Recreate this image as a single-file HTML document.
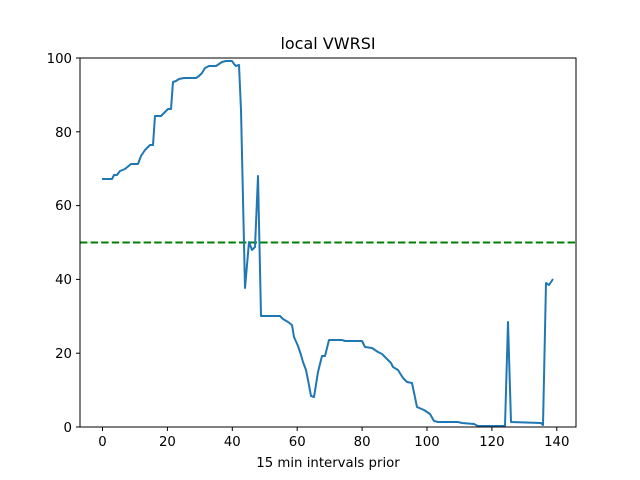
<!DOCTYPE html>
<html><head><meta charset="utf-8"><style>
html,body{margin:0;padding:0;background:#fff}
svg{display:block}
text{font-family:"DejaVu Sans","Liberation Sans",sans-serif;font-size:13.3px;fill:#000}
</style></head><body>
<svg width="640" height="480" viewBox="0 0 640 480" xmlns="http://www.w3.org/2000/svg">
<rect width="640" height="480" fill="#fff"/>
<text x="328" y="49" text-anchor="middle" style="font-size:16px">local VWRSI</text>
<line x1="80" y1="242.5" x2="576" y2="242.5" stroke="#008000" stroke-width="2" stroke-dasharray="7.4,3.2"/>
<polyline fill="none" stroke="#1f77b4" stroke-width="2" stroke-linejoin="round" points="102,179 112,179 114,175 117,175 120,171 125,169 131,164 138,164 141,156 145,150 150,145 153,145 155,116 161,116 165,112 168,109 171,109 173,82 176,81 179,79 184,78 188,78 196,78 199,76 202,73 205,68 209,66 216,66 222,62 226,61 232,61 234,64 236,66 239,65 241,110 245,288 249,242 252,250 255,247 258,176 261,316 280,316 283,319 288,322 292,325 294,337 298,346 301,355 303,362 306,370 308,380 311,396 314,397 318,372 322,356 325,356 329,340 342,340 345,341 362,341 365,347 372,348 378,352 382,354 386,358 391,363 393,367 398,370 403,378 407,382 412,383 417,407 424,410 430,414 434,421 438,422 458,422 462,423 474,424 478,426 505,426 508,322 511,422 541,423 543,425 546,283 549,285 553,279"/>
<rect x="80" y="58" width="496" height="369" fill="none" stroke="#000" stroke-width="1"/>
<g stroke="#000" stroke-width="1">
<line x1="102.5" y1="427" x2="102.5" y2="431"/>
<line x1="167.4" y1="427" x2="167.4" y2="431"/>
<line x1="232.3" y1="427" x2="232.3" y2="431"/>
<line x1="297.2" y1="427" x2="297.2" y2="431"/>
<line x1="362.1" y1="427" x2="362.1" y2="431"/>
<line x1="427" y1="427" x2="427" y2="431"/>
<line x1="491.9" y1="427" x2="491.9" y2="431"/>
<line x1="556.8" y1="427" x2="556.8" y2="431"/>
<line x1="76" y1="427" x2="80" y2="427"/>
<line x1="76" y1="353.2" x2="80" y2="353.2"/>
<line x1="76" y1="279.4" x2="80" y2="279.4"/>
<line x1="76" y1="205.6" x2="80" y2="205.6"/>
<line x1="76" y1="131.8" x2="80" y2="131.8"/>
<line x1="76" y1="58" x2="80" y2="58"/>
</g>
<g text-anchor="middle">
<text x="102.5" y="446">0</text>
<text x="167.4" y="446">20</text>
<text x="232.3" y="446">40</text>
<text x="297.2" y="446">60</text>
<text x="362.1" y="446">80</text>
<text x="427" y="446">100</text>
<text x="491.9" y="446">120</text>
<text x="556.8" y="446">140</text>
</g>
<g text-anchor="end">
<text x="72" y="432">0</text>
<text x="72" y="358">20</text>
<text x="72" y="284">40</text>
<text x="72" y="210">60</text>
<text x="72" y="137">80</text>
<text x="72" y="63">100</text>
</g>
<text x="328" y="467" text-anchor="middle">15 min intervals prior</text>
</svg>
</body></html>
